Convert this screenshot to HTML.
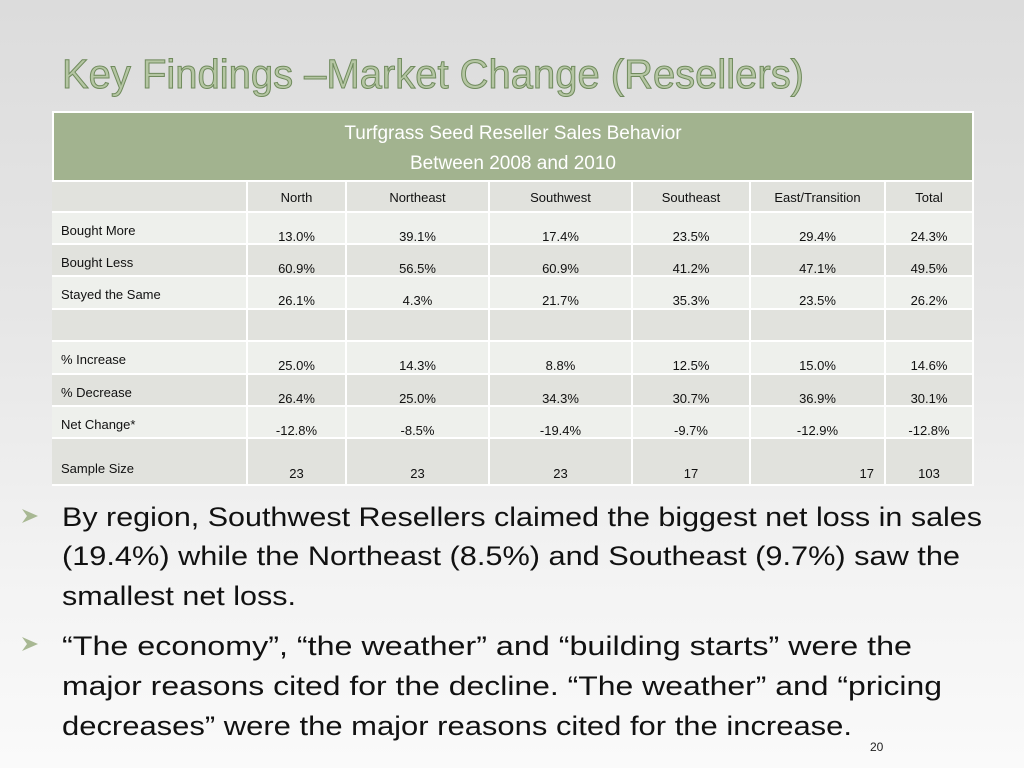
<!DOCTYPE html>
<html><head><meta charset="utf-8">
<style>
body{margin:0;width:1024px;height:768px;overflow:hidden;font-family:"Liberation Sans",sans-serif;
background:linear-gradient(180deg,#dcdcdc 0%,#e6e6e6 40%,#f3f3f3 75%,#fafafa 100%);position:relative}
.c{position:absolute;box-sizing:border-box;font-size:13px;color:#111;border-right:2px solid #fff;border-bottom:2px solid #fff}
</style></head><body>
<svg width="1024" height="768" style="position:absolute;left:0;top:0">
<text x="62" y="88" font-size="41" fill="#b5c6a3" stroke="#6f8a5c" stroke-width="1" textLength="742" lengthAdjust="spacingAndGlyphs" font-family="Liberation Sans, sans-serif">Key Findings –Market Change (Resellers)</text>
<g font-size="27" fill="#111" font-family="Liberation Sans, sans-serif" lengthAdjust="spacingAndGlyphs">
<polygon points="22,509 38,516 22,523 27,516" fill="#a8b893"/>
<text x="62" y="526" textLength="920" lengthAdjust="spacingAndGlyphs">By region, Southwest Resellers claimed the biggest net loss in sales</text>
<text x="62" y="565" textLength="898" lengthAdjust="spacingAndGlyphs">(19.4%) while the Northeast (8.5%) and Southeast (9.7%) saw the</text>
<text x="62" y="605" textLength="234" lengthAdjust="spacingAndGlyphs">smallest net loss.</text>
<polygon points="22,637 38,644 22,651 27,644" fill="#a8b893"/>
<text x="62" y="655" textLength="850" lengthAdjust="spacingAndGlyphs">“The economy”, “the weather” and “building starts” were the</text>
<text x="62" y="695" textLength="880" lengthAdjust="spacingAndGlyphs">major reasons cited for the decline. “The weather” and “pricing</text>
<text x="62" y="735" textLength="790" lengthAdjust="spacingAndGlyphs">decreases” were the major reasons cited for the increase.</text>
</g>
<text x="870" y="751" font-size="12" fill="#222">20</text>
</svg>
<div style="position:absolute;left:52px;top:111px;width:922px;height:71px;background:#a2b38f;color:#fff;text-align:center;font-size:19px;line-height:30px;padding-top:6px;box-sizing:border-box;border:2px solid #fff">Turfgrass Seed Reseller Sales Behavior<br>Between 2008 and 2010</div>
<div id="t"></div>
<script>
const cols=[52,248,347,490,633,751,886,974];
const rowsY=[182,213,245,277,310,342,375,407,439,486];
const header=["","North","Northeast","Southwest","Southeast","East/Transition","Total"];
const labels=["Bought More","Bought Less","Stayed the Same","","% Increase","% Decrease","Net Change*","Sample Size"];
const values=[["13.0%","39.1%","17.4%","23.5%","29.4%","24.3%"],["60.9%","56.5%","60.9%","41.2%","47.1%","49.5%"],["26.1%","4.3%","21.7%","35.3%","23.5%","26.2%"],["","","","","",""],["25.0%","14.3%","8.8%","12.5%","15.0%","14.6%"],["26.4%","25.0%","34.3%","30.7%","36.9%","30.1%"],["-12.8%","-8.5%","-19.4%","-9.7%","-12.9%","-12.8%"],["23","23","23","17","17","103"]];
const t=document.getElementById('t');
function cell(r,c,txt,bg,align,pad){
 const d=document.createElement('div');d.className='c';
 
 
 const h=rowsY[r+1]-rowsY[r];
 d.style.cssText+=`left:${cols[c]}px;top:${rowsY[r]}px;width:${cols[c+1]-cols[c]}px;height:${h}px;background:${bg};text-align:${align};padding:${pad};`;
 d.textContent=txt;t.appendChild(d);
}
header.forEach((h,c)=>cell(0,c,h,'#e1e2dd','center','8px 0 0 0'));
labels.forEach((l,i)=>{
 const r=i+1,bg=i%2==0?'#eef0ec':'#e1e2dd';
 const last=i==labels.length-1;
 cell(r,0,l,bg,'left',last?'22px 0 0 9px':'10px 0 0 9px');
 values[i].forEach((v,j)=>cell(r,j+1,v,bg,(last&&j==4)?'right':'center',last?(j==4?'27px 10px 0 0':'27px 0 0 0'):'16px 0 0 0'));
});
</script>
</body></html>
